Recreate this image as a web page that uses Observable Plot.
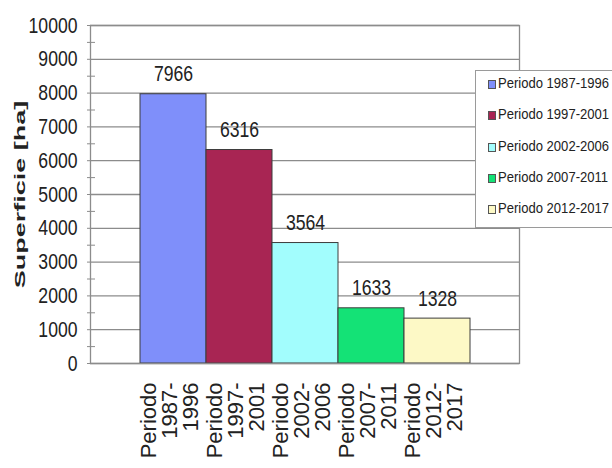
<!DOCTYPE html>
<html>
<head>
<meta charset="utf-8">
<script src="https://cdn.jsdelivr.net/npm/d3@7"></script>
<script src="https://cdn.jsdelivr.net/npm/@observablehq/plot@0.6"></script>
<style>
  html, body { margin: 0; padding: 0; background: #fff; overflow: hidden; }
  #wrap { position: relative; width: 612px; height: 468px; }
  .legend {
    position: absolute; left: 475px; top: 70px; width: 150px; height: 158px;
    border: 1px solid #9a9a9a; background: #fff; box-sizing: border-box;
    font-family: "Liberation Sans", Arial, sans-serif;
    font-size: 14.5px; color: #222;
  }
  .legend .item { height: 31.3px; line-height: 31.3px; padding-left: 12px; white-space: nowrap; position: relative; top: -3px; }
  .legend .sw { display: inline-block; width: 6px; height: 7px; border: 1px solid #555; margin-right: 2px; vertical-align: -1px; }
  .legend .lab { display: inline-block; transform: scaleX(0.9); transform-origin: 0 50%; }
</style>
</head>
<body>
<div id="wrap"></div>
<script>
// Superficie per periodo (ha)
const periods = ["Periodo 1987-1996", "Periodo 1997-2001", "Periodo 2002-2006", "Periodo 2007-2011", "Periodo 2012-2017"];
const tickLabels = ["Periodo\n1987-\n1996", "Periodo\n1997-\n2001", "Periodo\n2002-\n2006", "Periodo\n2007-\n2011", "Periodo\n2012-\n2017"];
const superficie = [7966, 6316, 3564, 1633, 1328];
const colors = ["#7f8ffa", "#a82553", "#a2fdfd", "#14e276", "#fdf9c6"];
const yTicks = [0, 1000, 2000, 3000, 4000, 5000, 6000, 7000, 8000, 9000, 10000];
const yMinorTicks = [500, 1500, 2500, 3500, 4500, 5500, 6500, 7500, 8500, 9500];

const rows = periods.map((p, i) => ({period: p, label: tickLabels[i], value: superficie[i]}));

const font = "'Liberation Sans', Arial, sans-serif";
const gridColor = "#8c8c8c";

const chart = Plot.plot({
  width: 612,
  height: 468,
  marginLeft: 90,
  marginRight: 93,
  marginTop: 25,
  marginBottom: 105,
  style: {background: "transparent", color: "#222"},
  x: {domain: periods, paddingInner: 0, paddingOuter: 0.75, axis: null},
  y: {domain: [0, 10000], axis: null},
  color: {domain: periods, range: colors},
  marks: [
    Plot.gridY(yTicks, {stroke: gridColor, strokeOpacity: 1, strokeWidth: 1.3}),
    Plot.axisY(yTicks, {
      tickSize: 3, tickPadding: 10, stroke: gridColor, tickFormat: d => String(d),
      fontSize: 22, fontFamily: font, fill: "#222", label: null
    }),
    Plot.axisY(yMinorTicks, {tickSize: 3, tickFormat: () => "", stroke: gridColor, label: null}),
    Plot.axisY(yMinorTicks, {tickSize: -5, tickFormat: () => "", stroke: gridColor, label: null}),
    Plot.barY(rows, {x: "period", y: "value", fill: "period", stroke: "#3c3c3c", strokeWidth: 1}),
    Plot.frame({stroke: gridColor, strokeWidth: 1.3}),
    Plot.text(rows, {
      x: "period", y: "value", text: d => String(d.value), dy: -20,
      fontSize: 22, fontFamily: font, fill: "#222"
    }),
    Plot.text(rows, {
      x: "period", text: "label", frameAnchor: "bottom", dy: 19, dx: -3,
      rotate: -90, textAnchor: "end", lineAnchor: "middle",
      fontSize: 22, lineHeight: 0.95, fontFamily: font, fill: "#222"
    }),
    Plot.text(["Superficie [ha]"], {
      frameAnchor: "left", dx: -70, rotate: -90, text: d => d,
      textAnchor: "middle", lineAnchor: "middle",
      fontSize: 15, fontWeight: "bold", fontFamily: font, fill: "#222"
    })
  ]
});

// Scale a single-line text about its own anchor point.
function rescale(t, sx, sy) {
  const tr = t.getAttribute("transform") || "";
  t.setAttribute("transform", `${tr} scale(${sx},${sy})`);
}

chart.querySelectorAll("text").forEach(t => {
  if (t.querySelector("tspan")) return;
  const s = t.textContent;
  if (/^\d+$/.test(s)) rescale(t, 0.8, 1);            // numbers: tall, narrow digits
  else if (s === "Superficie [ha]") rescale(t, 1.8, 1); // title: stretched along its length
});

const wrap = document.getElementById("wrap");
wrap.appendChild(chart);

// legend box
const legend = document.createElement("div");
legend.className = "legend";
periods.forEach((p, i) => {
  const item = document.createElement("div");
  item.className = "item";
  const sw = document.createElement("span");
  sw.className = "sw";
  sw.style.background = colors[i];
  const lab = document.createElement("span");
  lab.className = "lab";
  lab.textContent = p;
  item.appendChild(sw);
  item.appendChild(lab);
  legend.appendChild(item);
});
wrap.appendChild(legend);
</script>
</body>
</html>
